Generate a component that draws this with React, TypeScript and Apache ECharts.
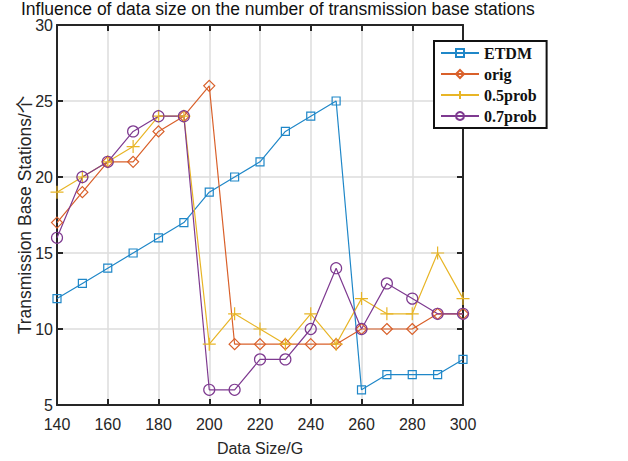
import React, { useEffect, useRef } from "react";
import * as echarts from "echarts";

const xValues = [140, 150, 160, 170, 180, 190, 200, 210, 220, 230, 240, 250, 260, 270, 280, 290, 300];
const etdm = [12, 13, 14, 15, 16, 17, 19, 20, 21, 23, 24, 25, 6, 7, 7, 7, 8];
const orig = [17, 19, 21, 21, 23, 24, 26, 9, 9, 9, 9, 9, 10, 10, 10, 11, 11];
const prob05 = [19, 20, 21, 22, 24, 24, 9, 11, 10, 9, 11, 9, 12, 11, 11, 15, 12];
const prob07 = [16, 20, 21, 23, 24, 24, 6, 6, 8, 8, 10, 14, 10, 13, 12, 11, 11];

const seriesNames = ["ETDM", "orig", "0.5prob", "0.7prob"];
const seriesColors = ["#1f87c8", "#d9602a", "#e8b526", "#7e3a90"];
const seriesSymbols = [
  "rect",
  "diamond",
  "path://M5 0 L5 10 M0 5 L10 5",
  "circle",
];
const symbolSizes = [8, 11, 13, 11];

export default function App() {
  const ref = useRef<HTMLDivElement>(null);
  useEffect(() => {
    if (!ref.current) return;
    const chart = echarts.init(ref.current, undefined, { renderer: "svg" });
    const datasets = [etdm, orig, prob05, prob07];
    const font = "'Liberation Sans', Arial, 'Noto Sans CJK SC', sans-serif";
    const axisCommon = {
      type: "value" as const,
      axisLine: { show: true, lineStyle: { color: "#262626", width: 2 } },
      axisTick: { show: true, inside: true, length: 6, lineStyle: { color: "#262626", width: 2 } },
    };
    chart.setOption({
      animation: false,
      backgroundColor: "#ffffff",
      title: {
        text: "Influence of data size on the number of transmission base stations",
        left: 21,
        top: 1,
        padding: 0,
        textStyle: { fontFamily: font, fontSize: 17.5, lineHeight: 15, fontWeight: "normal", color: "#111" },
      },
      legend: {
        data: seriesNames,
        orient: "vertical",
        left: 434,
        top: 41,
        padding: [4, 10, 4, 6],
        itemGap: 5,
        itemWidth: 38,
        itemHeight: 10,
        borderColor: "#111",
        borderWidth: 2,
        backgroundColor: "#fff",
        textStyle: { fontFamily: "'Liberation Serif', 'Times New Roman', serif", fontWeight: "bold", fontSize: 16, color: "#111" },
      },
      grid: { left: 57, right: 165, top: 25, bottom: 56 },
      xAxis: [
        {
          ...axisCommon,
          min: 140,
          max: 300,
          interval: 20,
          position: "bottom",
          name: "Data Size/G",
          nameLocation: "middle",
          nameGap: 35,
          nameMoveOverlap: false,
          nameTextStyle: { fontFamily: font, fontSize: 16, color: "#262626" },
          axisLabel: { fontFamily: font, fontSize: 16, color: "#262626", margin: 11 },
          splitLine: { show: true, lineStyle: { color: "#dcdcdc", width: 1.5 } },
        },
        {
          ...axisCommon,
          min: 140,
          max: 300,
          interval: 20,
          position: "top",
          axisLabel: { show: false },
          splitLine: { show: false },
        },
      ],
      yAxis: [
        {
          ...axisCommon,
          min: 5,
          max: 30,
          interval: 5,
          position: "left",
          name: "Transmission Base Stations/个",
          nameLocation: "middle",
          nameGap: 23,
          nameMoveOverlap: false,
          nameTextStyle: { fontFamily: font, fontSize: 17.5, color: "#262626" },
          axisLabel: { fontFamily: font, fontSize: 16, lineHeight: 14, color: "#262626", margin: 4 },
          splitLine: { show: true, lineStyle: { color: "#dcdcdc", width: 1.5 } },
        },
        {
          ...axisCommon,
          min: 5,
          max: 30,
          interval: 5,
          position: "right",
          axisLabel: { show: false },
          splitLine: { show: false },
        },
      ],
      series: seriesNames.map((name, i) => ({
        name,
        type: "line",
        xAxisIndex: 0,
        yAxisIndex: 0,
        data: xValues.map((x, j) => [x, datasets[i][j]]),
        symbol: seriesSymbols[i],
        symbolSize: symbolSizes[i],
        showAllSymbol: true,
        color: seriesColors[i],
        lineStyle: { color: seriesColors[i], width: 1.2 },
        itemStyle: { color: "rgba(255,255,255,0)", borderColor: seriesColors[i], borderWidth: 1.2 },
        emphasis: { disabled: true },
      })),
    });
    return () => chart.dispose();
  }, []);
  return (
    <div
      ref={ref}
      style={{ position: "absolute", left: 0, top: 0, width: 628, height: 461 }}
    />
  );
}
